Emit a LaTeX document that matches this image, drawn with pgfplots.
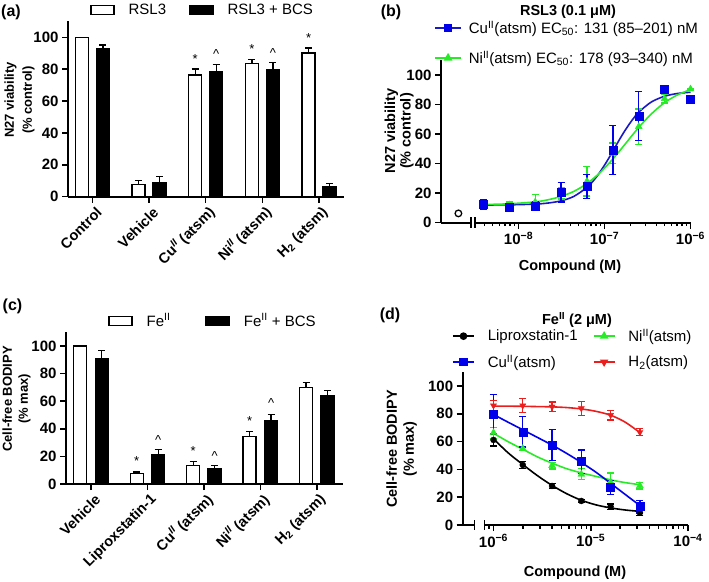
\documentclass[border=0pt]{standalone}
\usepackage{fontspec}
\setmainfont{Liberation Sans}
\usepackage{pgfplots}
\pgfplotsset{compat=1.18}

\definecolor{cblue}{RGB}{0,0,235}
\definecolor{cblueline}{RGB}{25,25,200}
\definecolor{cgreen}{RGB}{40,235,40}
\definecolor{cred}{RGB}{235,30,30}

\newcommand\tickfont{\fontsize{15}{15}\selectfont\bfseries}
\newcommand\legfont{\fontsize{15}{15}\selectfont}

\pgfplotsset{
  gp/.style={
    scale only axis, clip=false,
    axis line style={line width=1.6pt,-},
    every tick/.style={line width=1.5pt,black},
    tick align=outside,
    major tick length=6pt, minor tick length=3.5pt,
    tick label style={font=\tickfont},
    /pgf/number format/assume math mode=true,
  },
  % legend images carry a blank spacer so the text starts at the right place
  barleg/.style={legend image code/.code={\draw[##1] (0pt,-4.5pt) rectangle (23pt,4.5pt); \path (37pt,0pt);}},
  linelegb/.style={legend image code/.code={\draw[mark repeat=2,mark phase=2,##1] plot coordinates {(0pt,0pt) (13pt,0pt) (26pt,0pt)}; \path (33pt,0pt);}},
  linelegd/.style={legend image code/.code={\draw[mark repeat=2,mark phase=2,##1] plot coordinates {(0pt,0pt) (10.5pt,0pt) (21pt,0pt)}; \path (34pt,0pt);}},
  ebar/.style={error bars/.cd, y dir=#1, y explicit,
    error bar style={line width=1.3pt},
    error mark options={rotate=90, mark size=3.5pt, line width=1.3pt}},
  wbar/.style={ybar, bar width=0.23, bar shift=0pt, fill=white, draw=black, line width=1.4pt, barleg, ebar=plus},
  kbar/.style={ybar, bar width=0.23, bar shift=0pt, fill=black, draw=black, line width=1.4pt, barleg, ebar=plus},
  myleg/.style={legend style={draw=none, fill=none, inner sep=0pt, font=\legfont, nodes={inner sep=0pt}}},
  rotlab/.style={xticklabel style={rotate=45, anchor=east, xshift=3pt, yshift=-10pt,
    font=\fontsize{14.5}{15}\selectfont\bfseries}},
}

\begin{document}
\begin{tikzpicture}[x=1pt,y=-1pt]
\path[use as bounding box] (0,0) rectangle (709,581);

% ---------------- (a) ----------------
\begin{axis}[gp, myleg, rotlab, at={(68pt,-196.7pt)}, anchor=south west,
  width=276pt, height=175.3pt,
  axis x line*=bottom, axis y line*=left,
  xmin=-0.43, xmax=4.44, ymin=0, ymax=110,
  ytick={0,20,...,100}, xtick={0,...,4},
  xticklabels={Control, Vehicle, Cu\textsuperscript{\itshape II} (atsm), Ni\textsuperscript{\itshape II} (atsm), H\textsubscript{2} (atsm)},
  legend columns=-1,
  legend style={at={(axis description cs:0.0797,1.099)}, anchor=north west,
    /tikz/every even column/.append style={column sep=23pt}},
]
\addplot[wbar] coordinates {(-0.185,100) +- (0,0) (0.815,7.7) +- (0,2.6) (1.815,76.4) +- (0,3.7) (2.815,83.5) +- (0,2.7) (3.815,90.2) +- (0,3.1)};
\addlegendentry{RSL3}
\addplot[kbar] coordinates {(0.185,92.7) +- (0,2.5) (1.185,8.8) +- (0,3.8) (2.185,78.5) +- (0,4.3) (3.185,79.9) +- (0,4.4) (4.185,6.3) +- (0,2.1)};
\addlegendentry{RSL3 + BCS}
\node[anchor=base, font=\fontsize{13}{13}\selectfont] at (axis cs:1.815,83.6) {*};
\node[anchor=base, font=\fontsize{13}{13}\selectfont] at (axis cs:2.185,86.7) {\^{}};
\node[anchor=base, font=\fontsize{13}{13}\selectfont] at (axis cs:2.815,89.8) {*};
\node[anchor=base, font=\fontsize{13}{13}\selectfont] at (axis cs:3.185,87.3) {\^{}};
\node[anchor=base, font=\fontsize{13}{13}\selectfont] at (axis cs:3.815,96.7) {*};
\end{axis}
\node[rotate=90, align=center, font=\fontsize{13}{18}\selectfont\bfseries] at (19.5,100) {N27 viability\\(\% control)};
\node[font=\fontsize{16}{16}\selectfont\bfseries] at (11,12) {(a)};

% ---------------- (c) ----------------
\begin{axis}[gp, myleg, rotlab, at={(66pt,-484pt)}, anchor=south west,
  width=277.3pt, height=151.8pt,
  axis x line*=bottom, axis y line*=left,
  xmin=-0.443, xmax=4.47, ymin=0, ymax=110,
  ytick={0,20,...,100}, xtick={0,...,4},
  xticklabels={Vehicle, Liproxstatin-1, Cu\textsuperscript{\itshape II} (atsm), Ni\textsuperscript{\itshape II} (atsm), H\textsubscript{2} (atsm)},
  legend columns=-1,
  legend style={at={(axis description cs:0.1515,1.123)}, anchor=north west,
    /tikz/every even column/.append style={column sep=35pt}},
]
\addplot[wbar] coordinates {(-0.19,100) +- (0,0) (0.81,7.5) +- (0,1.2) (1.81,13.5) +- (0,2.6) (2.81,34.3) +- (0,3.9) (3.81,70) +- (0,3.4)};
\addlegendentry{Fe\textsuperscript{II}}
\addplot[kbar] coordinates {(0.19,90.8) +- (0,5.8) (1.19,21) +- (0,3.9) (2.19,11.1) +- (0,2.2) (3.19,45.9) +- (0,4.6) (4.19,63.8) +- (0,3.8)};
\addlegendentry{Fe\textsuperscript{II} + BCS}
\node[anchor=base, font=\fontsize{13}{13}\selectfont] at (axis cs:0.81,13.2) {*};
\node[anchor=base, font=\fontsize{13}{13}\selectfont] at (axis cs:1.19,28.9) {\^{}};
\node[anchor=base, font=\fontsize{13}{13}\selectfont] at (axis cs:1.81,20.4) {*};
\node[anchor=base, font=\fontsize{13}{13}\selectfont] at (axis cs:2.19,17.3) {\^{}};
\node[anchor=base, font=\fontsize{13}{13}\selectfont] at (axis cs:2.81,42.2) {*};
\node[anchor=base, font=\fontsize{13}{13}\selectfont] at (axis cs:3.19,55.2) {\^{}};
\end{axis}
\node[rotate=90, align=center, font=\fontsize{13}{16}\selectfont\bfseries] at (16.5,399) {Cell-free BODIPY\\(\% max)};
\node[font=\fontsize{16}{16}\selectfont\bfseries] at (12.5,306.5) {(c)};

% ---------------- (b) ----------------
% x values are log10 of the concentration (M)
\begin{axis}[gp, at={(441pt,-222.7pt)}, anchor=south west,
  width=30pt, height=162.5pt,
  axis x line*=bottom, axis y line*=left,
  xmin=0, xmax=1, ymin=0, ymax=110,
  ytick={0,20,...,100}, xtick=\empty,
]
\addplot[only marks, mark=o, mark size=3.3pt, line width=1.3pt, black] coordinates {(0.58,6.3)};
\end{axis}
\begin{axis}[gp, myleg, at={(475pt,-222.7pt)}, anchor=south west,
  width=215.5pt, height=162.5pt,
  axis x line*=bottom, axis y line=none,
  xmin=-8.506, xmax=-6, ymin=0, ymax=110,
  xtick={-8,-7,-6},
  xticklabels={10\textsuperscript{−8},10\textsuperscript{−7},10\textsuperscript{−6}},
  minor xtick={-8.398,-8.301,-8.222,-8.155,-8.097,-8.046,-7.699,-7.523,-7.398,-7.301,-7.222,-7.155,-7.097,-7.046,-6.699,-6.523,-6.398,-6.301,-6.222,-6.155,-6.097,-6.046},
  legend style={at={(axis description cs:-0.19,1.242)}, anchor=north west, row sep=16pt},
  legend cell align=left,
]
\addplot[cblueline, line width=1.6pt, smooth, mark=none, linelegb,
  legend image post style={mark=square*, mark size=3.5pt, mark options={fill=cblue, draw=cblue}}]
  coordinates {(-8.409,12.0) (-8.108,12.1) (-7.807,12.6) (-7.658,13.3) (-7.505,14.8) (-7.357,17.8) (-7.204,23.9) (-7.131,28.3) (-7.056,34.0) (-6.979,40.9) (-6.903,48.4) (-6.824,56.5) (-6.752,63.3) (-6.678,69.5) (-6.602,74.8) (-6.456,81.7) (-6.301,85.6) (-6.149,87.5) (-6,88.3)};
\addlegendentry{Cu\textsuperscript{II}(atsm) EC\textsubscript{50}: 131 (85–201) nM}
\addplot[cgreen, line width=1.6pt, smooth, mark=none, linelegb,
  legend image post style={mark=triangle*, mark size=3.5pt, mark options={fill=cgreen, draw=cgreen}}]
  coordinates {(-8.409,12.3) (-8.108,12.8) (-7.807,14.1) (-7.658,15.5) (-7.505,17.8) (-7.357,21.2) (-7.204,26.5) (-7.056,33.7) (-6.903,43.1) (-6.752,53.8) (-6.602,64.5) (-6.456,73.6) (-6.301,81.3) (-6.149,86.6) (-6,90.1)};
\addlegendentry{Ni\textsuperscript{II}(atsm) EC\textsubscript{50}: 178 (93–340) nM}
% data points
\addplot[forget plot, only marks, cgreen, mark=triangle*, mark size=4pt, ebar=both] coordinates {
  (-8.408,12) +- (0,3) (-8.107,12) +- (0,2) (-7.806,14) +- (0,5) (-7.505,20) +- (0,4)
  (-7.204,28) +- (0,10) (-6.903,47) +- (0,7) (-6.602,65) +- (0,12) (-6.301,84) +- (0,3) (-6,90.5) +- (0,0)};
\addplot[forget plot, only marks, cblue, mark=square*, mark size=4pt, ebar=both] coordinates {
  (-8.408,12.4) +- (0,3.4) (-8.107,10.8) +- (0,2) (-7.806,11.5) +- (0,2.5) (-7.505,20.5) +- (0,6.5)
  (-7.204,24.4) +- (0,8.2) (-6.903,49.2) +- (0,16.4) (-6.602,72.2) +- (0,16.4) (-6.301,90.3) +- (0,0) (-6,83.5) +- (0,0)};
\end{axis}
\draw[line width=1.5pt] (471,217) -- (471,228) (475,217) -- (475,228);
\node[rotate=90, align=center, font=\fontsize{14.5}{15.5}\selectfont\bfseries] at (399,131) {N27 viability\\(\% control)};
\node[font=\fontsize{14.5}{15}\selectfont\bfseries] at (570,267) {Compound (M)};
\node[font=\fontsize{14.5}{15}\selectfont\bfseries] at (568,12) {RSL3 (0.1 μM)};
\node[font=\fontsize{16}{16}\selectfont\bfseries] at (391,12) {(b)};

% ---------------- (d) ----------------
\begin{axis}[gp, at={(462.7pt,-525pt)}, anchor=south west,
  width=12pt, height=152.9pt,
  axis x line*=bottom, axis y line*=left,
  xmin=0, xmax=1, ymin=0, ymax=110,
  ytick={0,20,...,100}, xtick=\empty,
]
\addplot[draw=none, forget plot] coordinates {(0,0) (1,0)};
\end{axis}
\begin{axis}[gp, myleg, at={(484.7pt,-525pt)}, anchor=south west,
  width=203.3pt, height=152.9pt,
  axis x line*=bottom, axis y line=none,
  xmin=-6.0904, xmax=-4, ymin=0, ymax=110,
  xtick={-6,-5,-4},
  xticklabels={10\textsuperscript{−6},10\textsuperscript{−5},10\textsuperscript{−4}},
  minor xtick={-6.046,-5.699,-5.523,-5.398,-5.301,-5.222,-5.155,-5.097,-5.046,-4.699,-4.523,-4.398,-4.301,-4.222,-4.155,-4.097,-4.046},
  legend columns=2,
  legend style={at={(axis description cs:-0.161,1.282)}, anchor=north west, row sep=12pt,
    /tikz/every even column/.append style={column sep=15pt}},
  legend cell align=left,
]
\addplot[black, line width=1.6pt, smooth, mark=none, linelegd,
  legend image post style={mark=*, mark size=3pt, mark options={fill=black}}]
  coordinates {(-6,62) (-5.851,52) (-5.699,43.5) (-5.548,35.5) (-5.398,28.5) (-5.247,22.5) (-5.097,17.8) (-4.947,14.5) (-4.796,12.3) (-4.646,10.8) (-4.495,9.8)};
\addlegendentry{Liproxstatin-1}
\addplot[cgreen, line width=1.6pt, smooth, mark=none, linelegd,
  legend image post style={mark=triangle*, mark size=3.5pt, mark options={fill=cgreen}}]
  coordinates {(-6,66) (-5.851,60) (-5.699,54.5) (-5.548,49) (-5.398,44.5) (-5.247,40.5) (-5.097,37.5) (-4.947,35) (-4.796,32.5) (-4.646,30.5) (-4.495,29)};
\addlegendentry{Ni\textsuperscript{II}(atsm)}
\addplot[cblue, line width=1.6pt, smooth, mark=none, linelegd,
  legend image post style={mark=square*, mark size=3.5pt, mark options={fill=cblue}}]
  coordinates {(-6,79.5) (-5.851,74) (-5.699,68.5) (-5.548,63) (-5.398,57.5) (-5.247,51.5) (-5.097,45) (-4.947,38) (-4.796,30) (-4.646,22) (-4.495,14)};
\addlegendentry{Cu\textsuperscript{II}(atsm)}
\addplot[cred, line width=1.6pt, smooth, mark=none, linelegd,
  legend image post style={mark=triangle*, mark size=3.2pt, mark options={fill=cred, rotate=180}}]
  coordinates {(-6,85.5) (-5.851,85.5) (-5.699,85.4) (-5.548,85.2) (-5.398,85) (-5.247,84.5) (-5.097,83.5) (-4.947,81.8) (-4.796,79) (-4.646,74) (-4.495,66.5)};
\addlegendentry{H\textsubscript{2}(atsm)}
% data points
\addplot[forget plot, only marks, black, mark=*, mark size=3pt, ebar=both] coordinates {
  (-6,61.2) +- (0,4.3) (-5.699,43.2) +- (0,2.5) (-5.398,28.1) +- (0,2) (-5.097,17.3) +- (0,1) (-4.796,13.2) +- (0,2) (-4.495,8.9) +- (0,2)};
\addplot[forget plot, only marks, cgreen, mark=triangle*, mark size=4pt, ebar=both] coordinates {
  (-6,66.4) +- (0,4) (-5.699,55) +- (0,1.5) (-5.398,42.7) +- (0,2.5) (-5.097,36.5) +- (0,4) (-4.796,31) +- (0,6.5) (-4.495,28.3) +- (0,2.5)};
\addplot[forget plot, only marks, cblue, mark=square*, mark size=4pt, ebar=both] coordinates {
  (-6,79.9) +- (0,14) (-5.699,67.1) +- (0,11) (-5.398,57.6) +- (0,11) (-5.097,45.6) +- (0,8.4) (-4.796,26.9) +- (0,5) (-4.495,13.2) +- (0,4.5)};
\addplot[forget plot, only marks, cred, mark=triangle*, mark size=3.5pt, mark options={rotate=180}, ebar=both] coordinates {
  (-6,85.9) +- (0,3.5) (-5.699,85.9) +- (0,5) (-5.398,85.1) +- (0,3.5) (-5.097,83.9) +- (0,5) (-4.796,79.1) +- (0,3.5) (-4.495,66.7) +- (0,2.5)};
\end{axis}
\draw[line width=1.5pt] (474.7,520) -- (474.7,530) (484.7,520) -- (484.7,530);
\node[rotate=90, align=center, font=\fontsize{14.5}{17}\selectfont\bfseries] at (401.5,449) {Cell-free BODIPY\\(\% max)};
\node[font=\fontsize{14.5}{15}\selectfont\bfseries] at (575,573) {Compound (M)};
\node[font=\fontsize{14.5}{15}\selectfont\bfseries] at (577,320) {Fe\textsuperscript{II} (2 μM)};
\node[font=\fontsize{16}{16}\selectfont\bfseries] at (390,315.5) {(d)};
\end{tikzpicture}
\end{document}
